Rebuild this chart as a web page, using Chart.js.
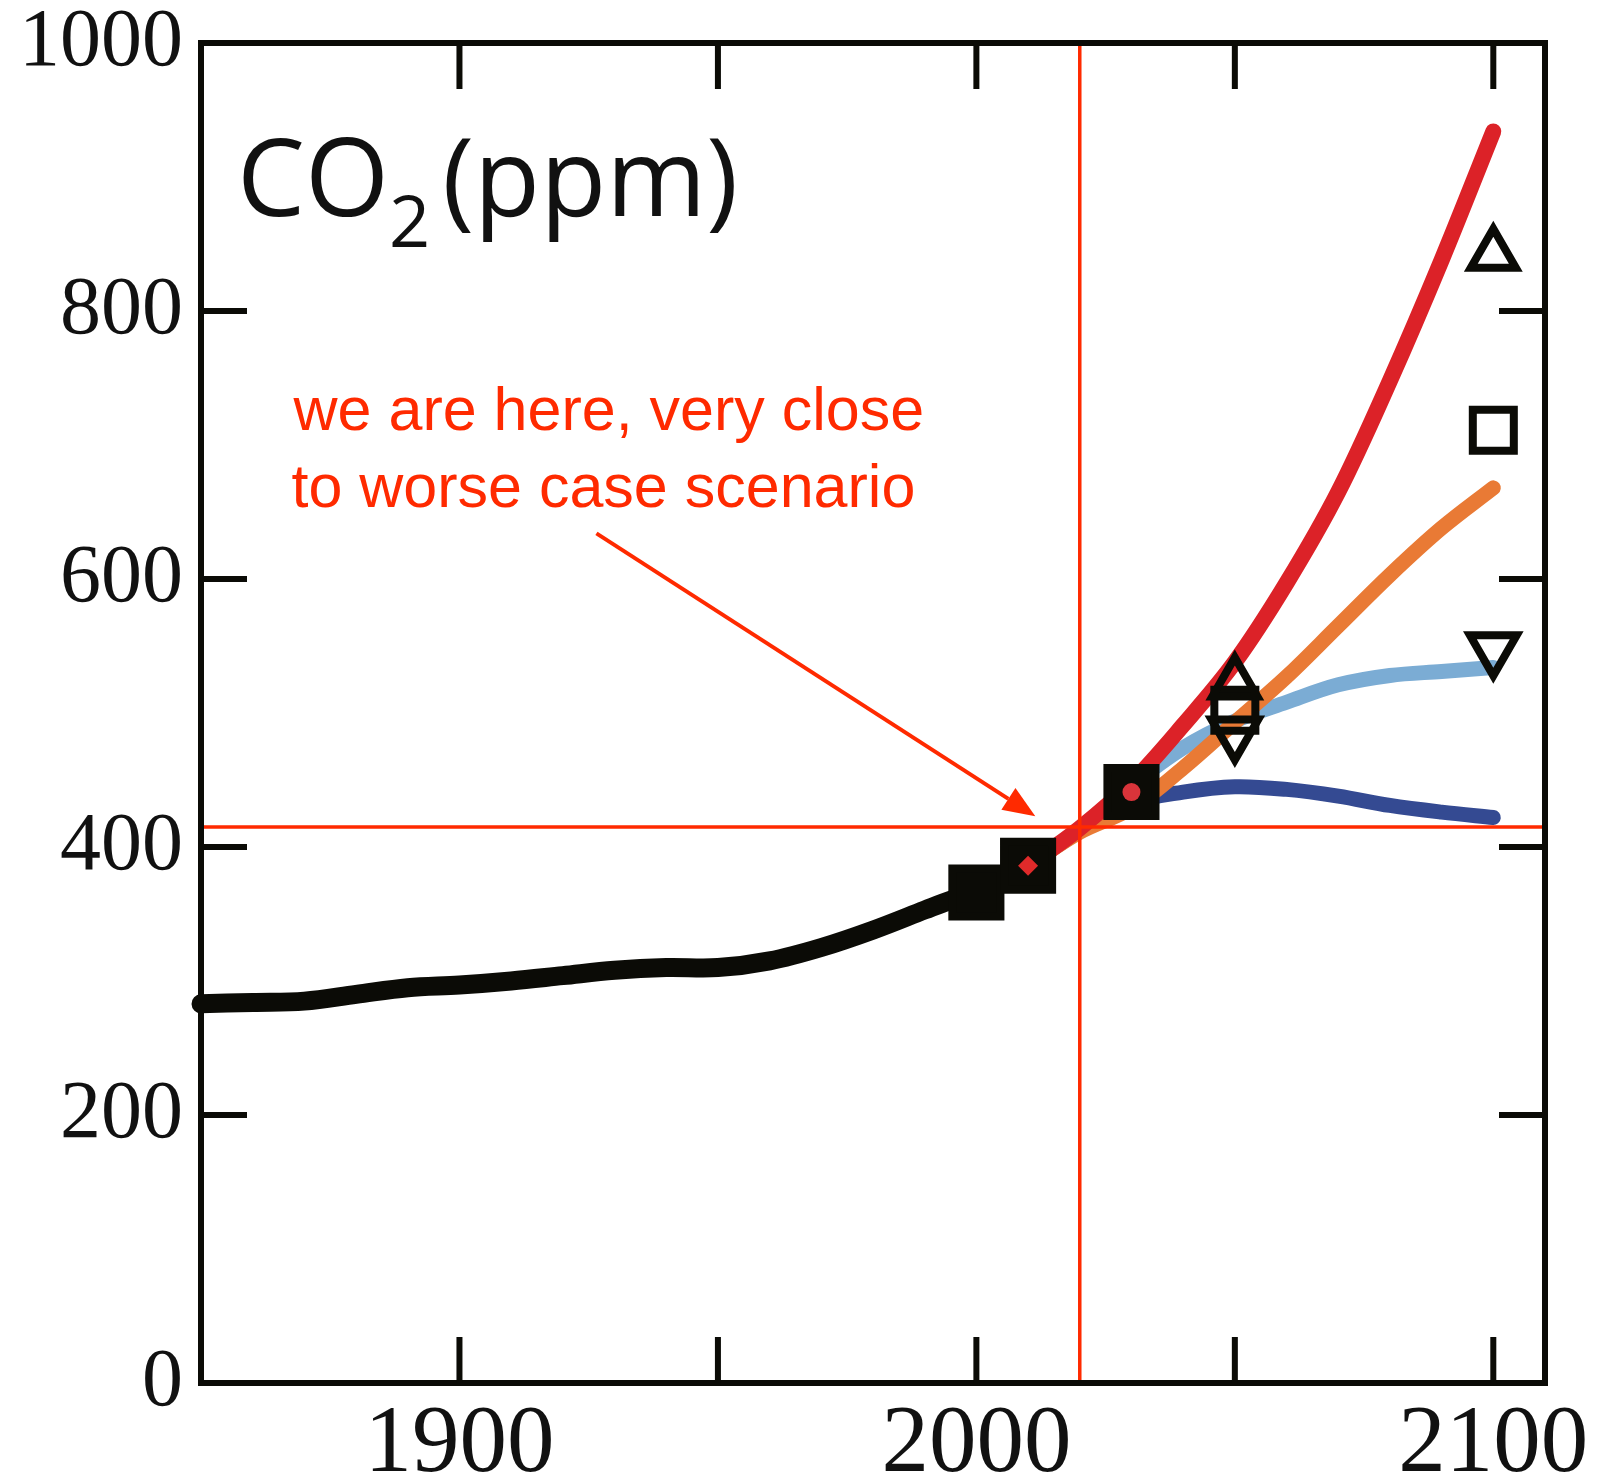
<!DOCTYPE html>
<html>
<head>
<meta charset="utf-8">
<script src="https://cdn.jsdelivr.net/npm/chart.js@4.4.1/dist/chart.umd.min.js"></script>
<style>
  html, body { margin: 0; padding: 0; background: #fff; }
  canvas { display: block; }
</style>
</head>
<body>
<canvas id="chart" width="1615" height="1482"></canvas>
<script>
// historical CO2 (ppm)
const histYears = [1850, 1860, 1870, 1880, 1890, 1900, 1910, 1920, 1930, 1940, 1950, 1960, 1970, 1980, 1990, 2000, 2010];
const histCO2   = [283, 284, 285, 290, 295, 297, 300, 304, 308, 310, 310, 315, 325, 338, 353, 368, 386];

// scenarios
const scenYears = [2010, 2020, 2030, 2040, 2050, 2060, 2070, 2080, 2090, 2100];
const rcp85 = [386, 414, 448, 491, 538, 597, 665, 748, 838, 934];
const rcp60 = [386, 411, 429, 459, 493, 527, 565, 603, 638, 668];
const rcp45 = [386, 413, 446, 474, 494, 508, 521, 528, 531, 534];
const rcp26 = [386, 412, 433, 441, 445, 443, 438, 431, 426, 422];

// markers
const obsYears  = [2000, 2010, 2030];
const obsCO2    = [366, 386, 441];
const upYears   = [2050, 2100];
const upCO2     = [522, 842];
const sqYears   = [2050, 2100];
const sqCO2     = [502, 711];
const downYears = [2050, 2100];
const downCO2   = [485, 548];

const xTicks  = [1900, 1950, 2000, 2050, 2100];
const xLabels = [1900, 2000, 2100];
const yTicks  = [0, 200, 400, 600, 800, 1000];

const nowYear = 2020, nowCO2 = 415;
const noteLines = ["we are here, very close", "to worse case scenario"];

const RED = "#ff2a00";
const INK = "#0b0b06";

const pts = (xs, ys) => xs.map((x, i) => ({ x: x, y: ys[i] }));

function lineSet(xs, ys, color, w) {
  return {
    type: "line", data: pts(xs, ys), borderColor: color, borderWidth: w,
    pointRadius: 0, tension: 0.35, borderCapStyle: "round",
    borderJoinStyle: "round", fill: false, clip: false
  };
}

function markSet(xs, ys, style, r, filled, rot) {
  return {
    type: "scatter", data: pts(xs, ys), pointStyle: style, pointRadius: r,
    pointRotation: rot || 0, pointBorderWidth: 8, pointBorderColor: INK,
    pointBackgroundColor: filled ? INK : "rgba(0,0,0,0)", showLine: false
  };
}

const decor = {
  id: "decor",
  afterDatasetsDraw(chart) {
    const { ctx, chartArea: a, scales: { x, y } } = chart;
    ctx.save();

    // "now" crosshair
    const nx = x.getPixelForValue(nowYear), ny = y.getPixelForValue(nowCO2);
    ctx.strokeStyle = RED; ctx.lineWidth = 3.5;
    ctx.beginPath();
    ctx.moveTo(nx, a.top); ctx.lineTo(nx, a.bottom);
    ctx.moveTo(a.left, ny); ctx.lineTo(a.right, ny);
    ctx.stroke();

    // frame + inward ticks
    ctx.strokeStyle = INK; ctx.lineWidth = 6;
    ctx.strokeRect(a.left, a.top, a.right - a.left, a.bottom - a.top);
    ctx.beginPath();
    xTicks.forEach(v => {
      const px = x.getPixelForValue(v);
      ctx.moveTo(px, a.top); ctx.lineTo(px, a.top + 46);
      ctx.moveTo(px, a.bottom); ctx.lineTo(px, a.bottom - 46);
    });
    yTicks.forEach(v => {
      const py = y.getPixelForValue(v);
      ctx.moveTo(a.left, py); ctx.lineTo(a.left + 46, py);
      ctx.moveTo(a.right, py); ctx.lineTo(a.right - 46, py);
    });
    ctx.stroke();

    // title CO2 (ppm)
    ctx.fillStyle = "#111";
    ctx.textAlign = "left"; ctx.textBaseline = "alphabetic";
    ctx.font = "108px 'Open Sans'";
    const tx = a.left + 36, ty = a.top + 173;
    ctx.fillText("CO", tx, ty);
    const w = ctx.measureText("CO").width;
    ctx.font = "72px 'Open Sans'";
    ctx.fillText("2", tx + w, ty + 31);
    const w2 = ctx.measureText("2").width;
    ctx.font = "108px 'Open Sans'";
    ctx.fillText("(ppm)", tx + w + w2 + 12, ty);

    // note
    ctx.fillStyle = RED;
    ctx.font = "61px 'Liberation Sans'";
    ctx.fillText(noteLines[0], x.getPixelForValue(1867.9), y.getPixelForValue(711));
    ctx.fillText(noteLines[1], x.getPixelForValue(1867.5), y.getPixelForValue(654));

    // arrow
    const x0 = x.getPixelForValue(1926.5), y0 = y.getPixelForValue(634);
    const x1 = x.getPixelForValue(2011.4), y1 = y.getPixelForValue(423);
    const ang = Math.atan2(y1 - y0, x1 - x0), hl = 32, hw = 13;
    const bx = x1 - hl * Math.cos(ang), by = y1 - hl * Math.sin(ang);
    ctx.strokeStyle = RED; ctx.lineWidth = 4;
    ctx.beginPath(); ctx.moveTo(x0, y0); ctx.lineTo(bx, by); ctx.stroke();
    ctx.beginPath();
    ctx.moveTo(x1, y1);
    ctx.lineTo(bx + hw * Math.sin(ang), by - hw * Math.cos(ang));
    ctx.lineTo(bx - hw * Math.sin(ang), by + hw * Math.cos(ang));
    ctx.closePath(); ctx.fill();

    ctx.restore();
  }
};

new Chart(document.getElementById("chart"), {
  data: {
    datasets: [
      { type: "scatter", data: [{ x: 2010, y: 386 }], pointStyle: "rectRot", pointRadius: 10,
        pointBackgroundColor: "#e02a2a", pointBorderWidth: 0 },
      { type: "scatter", data: [{ x: 2030, y: 441 }], pointStyle: "circle", pointRadius: 9,
        pointBackgroundColor: "#d9343a", pointBorderWidth: 0 },
      markSet(obsYears, obsCO2, "rect", 34, true),
      markSet(upYears, upCO2, "triangle", 26, false),
      markSet(sqYears, sqCO2, "rect", 29, false),
      markSet(downYears, downCO2, "triangle", 27, false, 180),
      lineSet(scenYears, rcp85, "#dc2228", 16),
      lineSet(scenYears, rcp60, "#e97a35", 15),
      lineSet(scenYears, rcp45, "#7bacd4", 15),
      lineSet(scenYears, rcp26, "#344a92", 15),
      lineSet(histYears, histCO2, INK, 19)
    ]
  },
  options: {
    responsive: false,
    animation: false,
    events: [],
    layout: { padding: { top: 43, right: 70, bottom: 0, left: 0 } },
    plugins: { legend: { display: false }, tooltip: { enabled: false } },
    scales: {
      x: {
        type: "linear", min: 1850, max: 2110,
        grid: { display: false, drawTicks: false },
        border: { display: false },
        afterBuildTicks: s => { s.ticks = xTicks.map(v => ({ value: v })); },
        afterFit: s => { s.height = 99; s.paddingLeft = 0; s.paddingRight = 0; },
        ticks: {
          autoSkip: false, maxRotation: 0, padding: 6, color: "#111",
          font: { family: "'Liberation Serif'", size: 95 },
          callback: v => xLabels.includes(v) ? String(v) : ""
        }
      },
      y: {
        type: "linear", min: 0, max: 1000,
        grid: { display: false, drawTicks: false },
        border: { display: false },
        afterBuildTicks: s => { s.ticks = yTicks.map(v => ({ value: v })); },
        afterFit: s => { s.width = 201; s.paddingTop = 0; s.paddingBottom = 0; },
        ticks: {
          padding: 18, color: "#111",
          font: { family: "'Liberation Serif'", size: 82 },
          callback: v => String(v)
        }
      }
    }
  },
  plugins: [decor]
});
</script>
</body>
</html>
